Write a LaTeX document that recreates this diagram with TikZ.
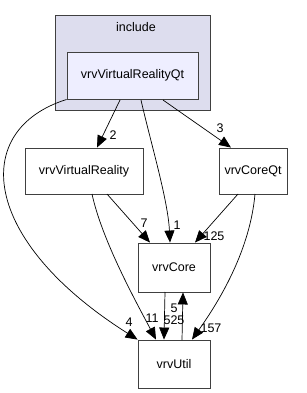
\documentclass[tikz,border=0pt]{standalone}
\usepackage{fontspec}
\setmainfont{Liberation Sans}
\usetikzlibrary{arrows.meta}
\definecolor{clusterfill}{HTML}{DDDDEE}
\definecolor{selfill}{HTML}{EEEEFF}
\definecolor{edgegray}{HTML}{404040}
\tikzset{
  dirbox/.style={draw=edgegray, line width=0.9pt, fill=white, rectangle, inner sep=0pt, font=\fontsize{12.5}{14}\selectfont},
  dep/.style={-{Triangle[length=12pt,width=10pt]}, line width=0.7pt, black},
  lbl/.style={inner sep=0pt, font=\fontsize{12.5}{14}\selectfont}
}
\begin{document}
\begin{tikzpicture}[x=1pt, y=-1pt]
\useasboundingbox (0,0) rectangle (307,393);
\fill[white] (0,0) rectangle (307,393);
% cluster
\node[draw=edgegray, line width=0.9pt, fill=clusterfill, minimum width=155pt, minimum height=95pt, inner sep=0pt] (inc) at (132.5,62.5) {};
\node[lbl] (inclbl) at (136,27) {include};
\node[dirbox, fill=selfill, minimum width=131pt, minimum height=47pt] (vrq) at (132.5,75.5) {vrvVirtualRealityQt};
% directories
\node[dirbox, minimum width=118pt, minimum height=46pt] (vr) at (84,171) {vrvVirtualReality};
\node[dirbox, minimum width=68pt, minimum height=46pt] (cqt) at (253,171) {vrvCoreQt};
\node[dirbox, minimum width=72pt, minimum height=49pt] (core) at (174,267.5) {vrvCore};
\node[dirbox, minimum width=72pt, minimum height=48pt] (util) at (174,364) {vrvUtil};
% dependencies
\draw[dep] (120,100) -- (vr.north -| 97,0);
\draw[dep] (141,100) .. controls (150,140) and (168,200) .. (core.north -| 170,0);
\draw[dep] (163,100) -- (cqt.north -| 231,0);
\draw[dep] (vrq.south west) .. controls (-30,130) and (-20,240) .. (util.north west);
\draw[dep] (107,194) -- (core.north -| 150,0);
\draw[dep] (92,194) .. controls (102,240) and (135,300) .. (util.north -| 156,0);
\draw[dep] (238,194) -- (core.north -| 195,0);
\draw[dep] (255,194) .. controls (250,250) and (220,300) .. (util.north -| 192,0);
\draw[dep] (165,292) -- (util.north -| 164,0);
\draw[dep] (182,340) -- (core.south -| 183,0);
% labels
\node[lbl] (l2) at (113,135) {2};
\node[lbl] (l1) at (177,225) {1};
\node[lbl] (l3) at (220,128) {3};
\node[lbl] (l4) at (129,322) {4};
\node[lbl] (l7) at (144,223) {7};
\node[lbl] (l11) at (152,318) {11};
\node[lbl] (l125) at (214,236) {125};
\node[lbl] (l157) at (211,328) {157};
\node[lbl] (l525) at (174,320) {525};
\node[lbl] (l5) at (174,308) {5};
\end{tikzpicture}
\end{document}
